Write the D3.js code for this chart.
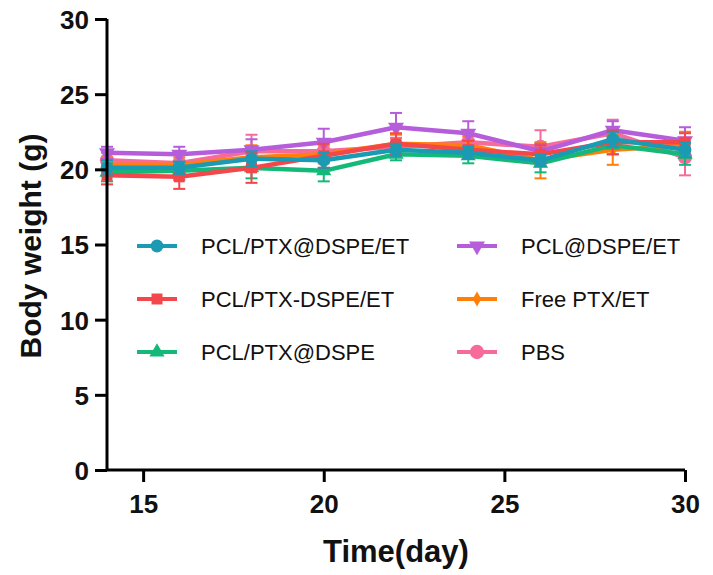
<!DOCTYPE html>
<html>
<head>
<meta charset="utf-8">
<script src="https://cdn.jsdelivr.net/npm/d3@7"></script>
<style>
  html, body { margin: 0; padding: 0; background: #fff; }
  svg { display: block; font-family: "Liberation Sans", Arial, sans-serif; }
</style>
</head>
<body>
<svg id="chart" width="713" height="575"></svg>
<script>
// Body weight over time, mean ± SD per treatment group
const days = [14, 16, 18, 20, 22, 24, 26, 28, 30];
const groupNames = ["PCL/PTX@DSPE/ET", "PCL/PTX-DSPE/ET", "PCL/PTX@DSPE", "PCL@DSPE/ET", "Free PTX/ET", "PBS"];
const groupColors = ["#1a9bb3", "#f4474b", "#14b97a", "#b65ddb", "#ff7f0a", "#f76b9c"];
const groupSymbols = ["circle", "square", "triangle", "triangleDown", "diamond", "bigCircle"];

const weightTeal   = [20.1, 20.1, 20.7, 20.6, 21.3, 21.1, 20.6, 22.0, 21.3];
const weightRed    = [19.6, 19.5, 20.1, 20.9, 21.7, 21.3, 21.0, 21.8, 21.8];
const weightGreen  = [19.8, 19.9, 20.1, 19.9, 21.0, 20.9, 20.4, 21.6, 21.0];
const weightPurple = [21.1, 21.0, 21.3, 21.8, 22.8, 22.4, 21.2, 22.6, 21.9];
const weightOrange = [20.3, 20.3, 20.8, 21.0, 21.7, 21.6, 20.6, 21.3, 21.6];
const weightPink   = [20.6, 20.4, 21.2, 21.2, 21.5, 21.8, 21.5, 22.4, 20.8];

const sdTeal   = [0.5, 0.4, 0.5, 0.5, 0.4, 0.4, 0.4, 0.5, 0.5];
const sdRed    = [0.6, 0.8, 1.0, 0.8, 0.7, 0.6, 0.6, 0.8, 0.6];
const sdGreen  = [0.6, 0.6, 0.7, 0.7, 0.4, 0.5, 0.6, 0.6, 0.7];
const sdPurple = [0.4, 0.5, 0.7, 0.9, 0.95, 0.8, 0.5, 0.6, 0.9];
const sdOrange = [0.5, 0.5, 0.8, 0.6, 0.6, 0.6, 1.2, 1.0, 0.9];
const sdPink   = [0.5, 0.6, 1.1, 0.7, 0.6, 0.5, 1.1, 0.9, 1.2];

const xTicks = [15, 20, 25, 30];
const yTicks = [0, 5, 10, 15, 20, 25, 30];

const means = [weightTeal, weightRed, weightGreen, weightPurple, weightOrange, weightPink];
const sds = [sdTeal, sdRed, sdGreen, sdPurple, sdOrange, sdPink];

const groups = groupNames.map((name, i) => ({
  name, color: groupColors[i], symbol: groupSymbols[i],
  points: days.map((d, j) => ({ day: d, mean: means[i][j], sd: sds[i][j] }))
}));

const svg = d3.select("#chart");
const x = d3.scaleLinear().domain([14, 30]).range([107, 685]);
const y = d3.scaleLinear().domain([0, 30]).range([470, 19]);

function symbolPath(kind) {
  switch (kind) {
    case "circle": return d3.symbol(d3.symbolCircle, 130)();
    case "bigCircle": return d3.symbol(d3.symbolCircle, 160)();
    case "square": return d3.symbol(d3.symbolSquare, 120)();
    case "triangle": return d3.symbol(d3.symbolTriangle, 100)();
    case "triangleDown": return d3.symbol(d3.symbolTriangle, 110)();
    case "diamond": return d3.symbol(d3.symbolDiamond, 65)();
  }
}
function symbolRotate(kind) { return kind === "triangleDown" ? " rotate(180)" : ""; }

// Plot series (last in legend drawn first, so the first group sits on top)
const plot = svg.append("g");
const line = d3.line().x(p => x(p.day)).y(p => y(p.mean));
groups.slice().reverse().forEach(g => {
  const gg = plot.append("g");
  // error bars
  g.points.forEach(p => {
    const cx = x(p.day), y1 = y(p.mean + p.sd), y2 = y(p.mean - p.sd);
    gg.append("line").attr("x1", cx).attr("x2", cx).attr("y1", y1).attr("y2", y2)
      .attr("stroke", g.color).attr("stroke-width", 2);
    [y1, y2].forEach(yy => gg.append("line")
      .attr("x1", cx - 6).attr("x2", cx + 6).attr("y1", yy).attr("y2", yy)
      .attr("stroke", g.color).attr("stroke-width", 2));
  });
  gg.append("path").datum(g.points).attr("d", line)
    .attr("fill", "none").attr("stroke", g.color).attr("stroke-width", 4.5)
    .attr("stroke-linejoin", "round");
  gg.selectAll(".m").data(g.points).join("path")
    .attr("d", symbolPath(g.symbol))
    .attr("transform", p => `translate(${x(p.day)},${y(p.mean)})${symbolRotate(g.symbol)}`)
    .attr("fill", g.color);
});

// Axes
const axisColor = "#000";
const yAxis = svg.append("g").attr("transform", "translate(107,0)")
  .call(d3.axisLeft(y).tickValues(yTicks).tickSize(12).tickPadding(6).tickFormat(d3.format("d")));
const xAxis = svg.append("g").attr("transform", "translate(0,470)")
  .call(d3.axisBottom(x).tickValues(xTicks).tickSize(12).tickPadding(13).tickFormat(d3.format("d")));
[yAxis, xAxis].forEach(a => {
  a.select(".domain").attr("stroke", axisColor).attr("stroke-width", 3);
  a.selectAll(".tick line").attr("stroke", axisColor).attr("stroke-width", 3);
  a.selectAll(".tick text").attr("fill", "#111").attr("font-size", 26).attr("font-weight", "bold")
    .attr("font-family", "'Liberation Sans', Arial, sans-serif");
});
yAxis.select(".domain").attr("d", "M0,470V19");
xAxis.select(".domain").attr("d", "M107,0H685");
yAxis.selectAll(".tick text").attr("dy", "0.36em");

// Axis titles
svg.append("text").attr("x", 396).attr("y", 562).attr("text-anchor", "middle")
  .attr("font-size", 31).attr("font-weight", "bold").attr("fill", "#111").text("Time(day)");
svg.append("text").attr("transform", "translate(41,246) rotate(-90)").attr("text-anchor", "middle")
  .attr("font-size", 30).attr("font-weight", "bold").attr("fill", "#111").text("Body weight (g)");

// Legend
const legendPos = [
  { lx: 137, ty: 246 }, { lx: 137, ty: 299 }, { lx: 137, ty: 352 },
  { lx: 457, ty: 246 }, { lx: 457, ty: 299 }, { lx: 457, ty: 352 }
];
groups.forEach((g, i) => {
  const p = legendPos[i];
  const lg = svg.append("g");
  lg.append("line").attr("x1", p.lx).attr("x2", p.lx + 40).attr("y1", p.ty).attr("y2", p.ty)
    .attr("stroke", g.color).attr("stroke-width", 4);
  lg.append("path").attr("d", symbolPath(g.symbol))
    .attr("transform", `translate(${p.lx + 20},${p.ty})${symbolRotate(g.symbol)}`).attr("fill", g.color);
  lg.append("text").attr("x", p.lx + 64).attr("y", p.ty).attr("dy", "0.36em")
    .attr("font-size", 22).attr("fill", "#111").text(g.name);
});
</script>
</body>
</html>
